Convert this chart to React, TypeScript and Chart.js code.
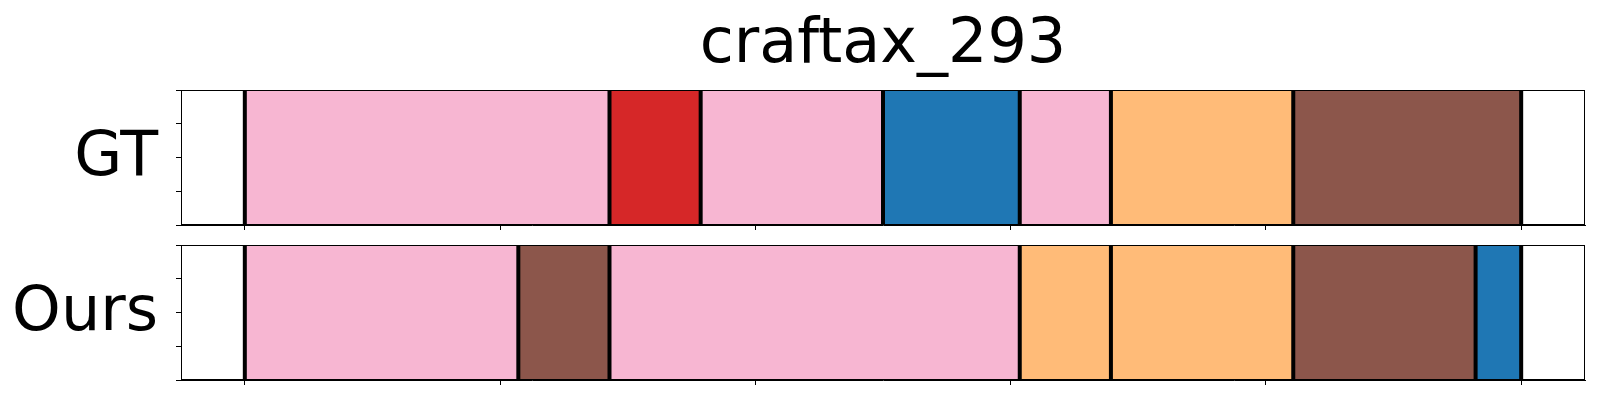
import React, { useEffect, useRef } from "react";
import { Chart, registerables } from "chart.js";

Chart.register(...registerables);

const TITLE = "craftax_293";
const PANEL_LABELS = ["GT", "Ours"];

// segment lengths (in steps) and their class colours
const gtLengths = [8, 2, 4, 3, 2, 4, 5];
const gtClasses = ["pink", "red", "pink", "blue", "pink", "orange", "brown"];
const oursLengths = [6, 2, 9, 2, 4, 4, 1];
const oursClasses = ["pink", "brown", "pink", "orange", "orange", "brown", "blue"];

const xTickFractions = [0, 0.2, 0.4, 0.6, 0.8, 1.0];
const yTickValues = [0, 0.25, 0.5, 0.75, 1.0];

const CLASS_COLORS: Record<string, string> = {
  pink: "#f7b6d2",
  red: "#d62728",
  blue: "#1f77b4",
  orange: "#ffbb78",
  brown: "#8c564b",
};

const FONT = '"DejaVu Sans", sans-serif';

function buildSegments(lengths: number[]) {
  const segs: { x: [number, number]; y: string }[] = [];
  const bounds: number[] = [];
  let s = 0;
  for (const l of lengths) {
    segs.push({ x: [s, s + l], y: "row" });
    bounds.push(s);
    s += l;
  }
  bounds.push(s);
  return { segs, bounds, total: s };
}

const panelPlugin = {
  id: "panelDecor",
  afterDatasetsDraw(chart: any, _args: any, opts: any) {
    const { ctx, chartArea, scales } = chart;
    const xs = scales.x;
    ctx.save();
    ctx.strokeStyle = "#000";
    ctx.lineWidth = 4;
    for (const b of opts.boundaries as number[]) {
      const px = xs.getPixelForValue(b);
      ctx.beginPath();
      ctx.moveTo(px, chartArea.top);
      ctx.lineTo(px, chartArea.bottom);
      ctx.stroke();
    }
    ctx.lineWidth = 1;
    ctx.strokeRect(
      Math.round(chartArea.left) + 0.5,
      Math.round(chartArea.top) + 0.5,
      Math.round(chartArea.right - chartArea.left) - 1,
      Math.round(chartArea.bottom - chartArea.top) - 1
    );
    ctx.fillStyle = "#000";
    ctx.font = `62px ${FONT}`;
    ctx.textAlign = "right";
    ctx.textBaseline = "alphabetic";
    const cy = (chartArea.top + chartArea.bottom) / 2;
    ctx.fillText(opts.label, chartArea.left - 23, cy + 17.5);
    if (opts.title) {
      ctx.textAlign = "center";
      ctx.fillText(opts.title, (chartArea.left + chartArea.right) / 2, 61.7);
    }
    ctx.restore();
  },
};

function makeConfig(
  lengths: number[],
  classes: string[],
  label: string,
  title: string | null,
  padding: any
) {
  const { segs, bounds, total } = buildSegments(lengths);
  return {
    type: "bar" as const,
    data: {
      labels: ["row"],
      datasets: [
        {
          data: segs,
          backgroundColor: classes.map((c) => CLASS_COLORS[c]),
          borderWidth: 0,
          barPercentage: 1,
          categoryPercentage: 1,
          grouped: false,
        },
      ],
    },
    plugins: [panelPlugin],
    options: {
      animation: false,
      responsive: false,
      indexAxis: "y" as const,
      layout: { padding },
      plugins: {
        legend: { display: false },
        tooltip: { enabled: false },
        title: { display: false },
        panelDecor: { boundaries: bounds, label, title },
      },
      scales: {
        x: {
          type: "linear",
          min: -0.05 * total,
          max: 1.05 * total,
          offset: false,
          afterBuildTicks: (axis: any) => {
            axis.ticks = xTickFractions.map((f) => ({ value: f * total }));
          },
          ticks: { display: false },
          grid: { offset: false, drawOnChartArea: false, tickLength: 5, color: "#000", lineWidth: 1 },
          border: { color: "#000", width: 1 },
        },
        y: {
          type: "category",
          display: false,
        },
        y2: {
          type: "linear",
          position: "left",
          min: 0,
          max: 1,
          offset: false,
          afterBuildTicks: (axis: any) => {
            axis.ticks = yTickValues.map((v) => ({ value: v }));
          },
          ticks: { display: false },
          grid: { offset: false, drawOnChartArea: false, tickLength: 5, color: "#000", lineWidth: 1 },
          border: { color: "#000", width: 1 },
        },
      },
    },
  };
}

function Panel(props: {
  lengths: number[];
  classes: string[];
  label: string;
  title: string | null;
  top: number;
  height: number;
  padding: any;
}) {
  const ref = useRef<HTMLCanvasElement>(null);
  useEffect(() => {
    if (!ref.current) return;
    const chart = new Chart(
      ref.current,
      makeConfig(props.lengths, props.classes, props.label, props.title, props.padding) as any
    );
    return () => chart.destroy();
  }, []);
  return (
    <canvas
      ref={ref}
      width={1600}
      height={props.height}
      style={{ position: "absolute", left: 0, top: props.top, width: 1600, height: props.height }}
    />
  );
}

export default function App() {
  return (
    <div style={{ position: "absolute", left: 0, top: 0, width: 1600, height: 400, background: "#fff" }}>
      <Panel
        lengths={gtLengths}
        classes={gtClasses}
        label={PANEL_LABELS[0]}
        title={TITLE}
        top={0}
        height={232}
        padding={{ left: 176, right: 15, top: 90, bottom: 2 }}
      />
      <Panel
        lengths={oursLengths}
        classes={oursClasses}
        label={PANEL_LABELS[1]}
        title={null}
        top={232}
        height={168}
        padding={{ left: 176, right: 15, top: 13, bottom: 15 }}
      />
    </div>
  );
}
